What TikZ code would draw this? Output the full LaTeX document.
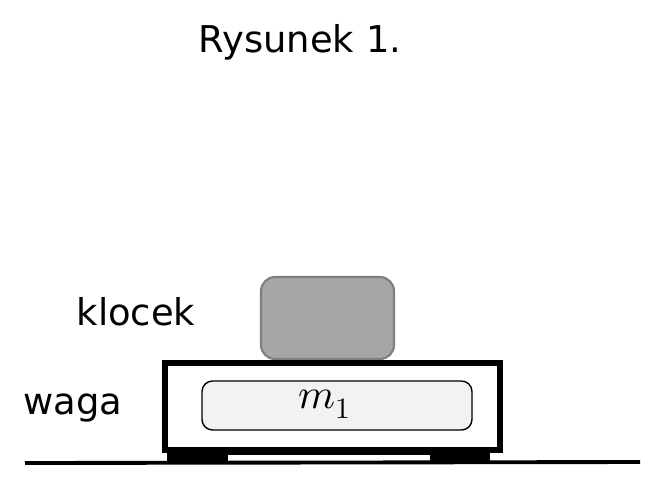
\documentclass[tikz,border=0pt]{standalone}
\usepackage{fontspec}
\setmainfont{DejaVu Sans}
\usepackage{unicode-math}
\setmathfont{Latin Modern Math}
\definecolor{blockgray}{HTML}{A6A6A6}
\definecolor{blockedge}{HTML}{7F7F7F}
\definecolor{panelgray}{HTML}{F2F2F2}
\begin{document}
\begin{tikzpicture}[x=0.02cm,y=-0.02cm,
  lbl/.style={font=\fontsize{21}{24}\selectfont,anchor=center},
  foot/.style={fill=black,draw=none}
]
\useasboundingbox (0,0) rectangle (662,488);

% ---- title ---------------------------------------------------
\node[lbl] (title) at (300,42) {Rysunek 1.};

% ---- block on the scale -------------------------------------
\draw[blockedge,fill=blockgray,line width=1.2pt,rounded corners=8pt]
  (261,277) rectangle (394,359);
\node[lbl] (klocek) at (136,312) {klocek};

% ---- scale body ----------------------------------------------
\draw[line width=3pt,fill=white] (165,363) rectangle (500,450);
\draw[fill=panelgray,line width=0.8pt,rounded corners=6pt]
  (202,381) rectangle (472,430);
\node[font=\fontsize{24}{26}\selectfont] (mass) at (325,404) {$m_1$};
\node[lbl] (waga) at (73,408) {waga};

% ---- feet and ground -----------------------------------------
\fill[foot] (167,450) rectangle (490,455);
\fill[foot] (167,450) rectangle (228,463);
\fill[foot] (430,450) rectangle (490,463);
\draw[line width=2.2pt] (25,463) -- (640,462);
\end{tikzpicture}
\end{document}
